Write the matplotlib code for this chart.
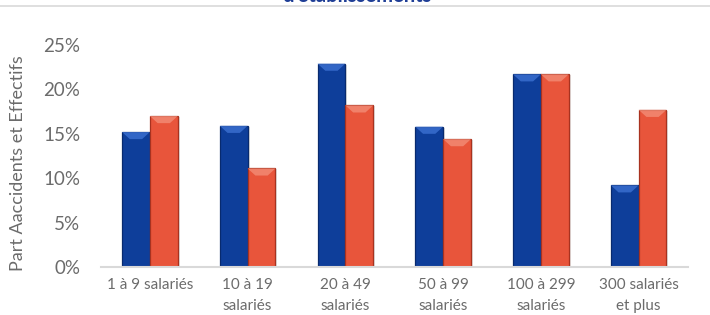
import matplotlib
matplotlib.use("Agg")
import matplotlib.pyplot as plt
from matplotlib.patches import Polygon
import numpy as np

categories = ["1 à 9 salariés", "10 à 19\nsalariés", "20 à 49\nsalariés",
              "50 à 99\nsalariés", "100 à 299\nsalariés", "300 salariés\net plus"]
accidents = [15.2, 15.9, 22.9, 15.8, 21.7, 9.2]
effectifs = [17.0, 11.1, 18.2, 14.4, 21.7, 17.7]
yticks = [0, 5, 10, 15, 20, 25]
ytick_labels = ["0%", "5%", "10%", "15%", "20%", "25%"]
title = "d'établissements"
ylabel = "Part Aaccidents et Effectifs"

blue, blue_edge, blue_light = "#0E3E9A", "#082A6E", "#3F74D6"
red, red_edge, red_light = "#E8553B", "#A8321F", "#F4907A"

plt.rcParams['font.family'] = ['Lato', 'DejaVu Sans']

fig = plt.figure(figsize=(7.1, 3.15), dpi=100)
ax = fig.add_axes([101/710, 1-267/315, (687.5-101)/710, (267-45)/315])

x = np.arange(len(categories))
w = 0.285

def draw(xs, vals, fc, ec, lc):
    bars = ax.bar(xs, vals, width=w, color=fc, edgecolor=ec, linewidth=0.9, zorder=3)
    for b in bars:
        x0, wd, h = b.get_x(), b.get_width(), b.get_height()
        d = 0.8
        poly = Polygon([(x0, h), (x0 + wd, h), (x0 + wd*0.72, h - d), (x0 + wd*0.28, h - d)],
                       closed=True, facecolor=lc, edgecolor='none', alpha=0.75, zorder=4)
        ax.add_patch(poly)
        # soft shadow
        ax.bar(x0 + wd/2 + 0.02, h, width=wd, bottom=-0.1, color='#000000', alpha=0.12,
               linewidth=0, zorder=2)
    return bars

draw(x - w/2, accidents, blue, blue_edge, blue_light)
draw(x + w/2, effectifs, red, red_edge, red_light)

ax.set_xlim(-0.5, len(categories) - 0.5)
ax.set_ylim(0, 25)
ax.set_yticks(yticks)
ax.set_yticklabels(ytick_labels, fontsize=13.5, color="#6B6B6B")
ax.set_xticks(x)
ax.set_xticklabels(categories, fontsize=11, color="#6B6B6B", linespacing=1.6)
ax.tick_params(axis='both', length=0)
ax.tick_params(axis='y', pad=15)
ax.tick_params(axis='x', pad=8)
for s in ['top', 'right', 'left']:
    ax.spines[s].set_visible(False)
ax.spines['bottom'].set_color('#D9D9D9')
ax.spines['bottom'].set_linewidth(1.5)
ax.spines['bottom'].set_zorder(5)
ax.set_ylabel(ylabel, fontsize=13, color="#6B6B6B")
ax.yaxis.set_label_coords(-0.128, 0.47)

fig.text(0.5 + 2/710, 1 - 1.5/315, title, ha='center', va='baseline', fontsize=14.5,
         fontweight='bold', color="#1F3E96")
fig.add_artist(plt.Line2D([0, 1], [1 - 6/315, 1 - 6/315], color='#D9D9D9', linewidth=1.2))

fig.savefig("out.png", dpi=100)
